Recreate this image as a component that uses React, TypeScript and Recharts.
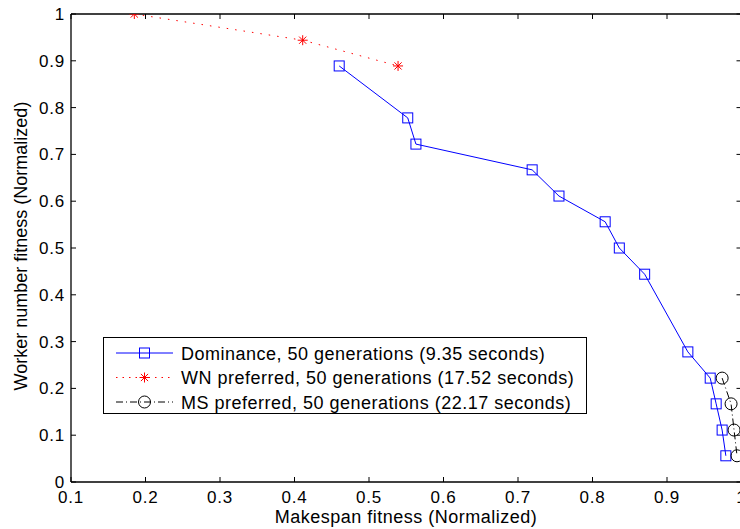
import React from 'react';
import { LineChart, Line, XAxis, YAxis } from 'recharts';

// axis ticks
const xTicks = [0.1, 0.2, 0.3, 0.4, 0.5, 0.6, 0.7, 0.8, 0.9, 1];
const xTickLabels = ['0.1', '0.2', '0.3', '0.4', '0.5', '0.6', '0.7', '0.8', '0.9', '1'];
const yTicks = [0, 0.1, 0.2, 0.3, 0.4, 0.5, 0.6, 0.7, 0.8, 0.9, 1];
const yTickLabels = ['0', '0.1', '0.2', '0.3', '0.4', '0.5', '0.6', '0.7', '0.8', '0.9', '1'];

// Dominance, 50 generations
const domX = [0.46, 0.552, 0.563, 0.719, 0.755, 0.817, 0.836, 0.87, 0.928, 0.958, 0.966, 0.974, 0.979];
const domY = [0.889, 0.778, 0.722, 0.667, 0.611, 0.556, 0.5, 0.444, 0.278, 0.222, 0.167, 0.111, 0.056];

// WN preferred
const wnX = [0.185, 0.411, 0.539];
const wnY = [1, 0.944, 0.889];

// MS preferred
const msX = [0.974, 0.986, 0.99, 0.994];
const msY = [0.222, 0.167, 0.111, 0.056];

const seriesNames = [
  'Dominance, 50 generations (9.35 seconds)',
  'WN preferred, 50 generations (17.52 seconds)',
  'MS preferred, 50 generations (22.17 seconds)',
];

const toRows = (xs: number[], ys: number[]) => xs.map((x, i) => ({ x, y: ys[i] }));
const domData = toRows(domX, domY);
const wnData = toRows(wnX, wnY);
const msData = toRows(msX, msY);

const FONT = '"Liberation Sans", Arial, Helvetica, sans-serif';
const AXIS = { stroke: '#000', strokeWidth: 1.3 };
const TICK_LEN = 5;

const BLUE = '#0000ff';
const RED = '#ff0000';

const BottomTick = (props: any) => {
  const { x, y, index } = props;
  return (
    <g>
      <line x1={x} y1={y} x2={x} y2={y - TICK_LEN} stroke="#000" strokeWidth={1} />
      <text x={x} y={y + 21} textAnchor="middle" fontSize={17} letterSpacing={0.8} fontFamily={FONT} fill="#000">
        {xTickLabels[index]}
      </text>
    </g>
  );
};

const TopTick = (props: any) => {
  const { x, y } = props;
  return <line x1={x} y1={y} x2={x} y2={y + TICK_LEN} stroke="#000" strokeWidth={1} />;
};

const LeftTick = (props: any) => {
  const { x, y, index } = props;
  return (
    <g>
      <line x1={x} y1={y} x2={x + TICK_LEN} y2={y} stroke="#000" strokeWidth={1} />
      <text x={x - 6} y={y + 6} textAnchor="end" fontSize={17} letterSpacing={0.8} fontFamily={FONT} fill="#000">
        {yTickLabels[index]}
      </text>
    </g>
  );
};

const RightTick = (props: any) => {
  const { x, y } = props;
  return <line x1={x} y1={y} x2={x - TICK_LEN} y2={y} stroke="#000" strokeWidth={1} />;
};

const Square = ({ cx, cy, color }: { cx: number; cy: number; color: string }) => (
  <rect x={cx - 5} y={cy - 5} width={10} height={10} fill="none" stroke={color} strokeWidth={1} />
);

const Star = ({ cx, cy, color }: { cx: number; cy: number; color: string }) => (
  <g stroke={color} strokeWidth={1}>
    <line x1={cx - 5} y1={cy} x2={cx + 5} y2={cy} />
    <line x1={cx} y1={cy - 5} x2={cx} y2={cy + 5} />
    <line x1={cx - 3.6} y1={cy - 3.6} x2={cx + 3.6} y2={cy + 3.6} />
    <line x1={cx - 3.6} y1={cy + 3.6} x2={cx + 3.6} y2={cy - 3.6} />
  </g>
);

const Ring = ({ cx, cy, color }: { cx: number; cy: number; color: string }) => (
  <circle cx={cx} cy={cy} r={6} fill="none" stroke={color} strokeWidth={1} />
);

const squareDot = (p: any) => <Square key={p.index} cx={p.cx} cy={p.cy} color={BLUE} />;
const starDot = (p: any) => <Star key={p.index} cx={p.cx} cy={p.cy} color={RED} />;
const ringDot = (p: any) => <Ring key={p.index} cx={p.cx} cy={p.cy} color="#000" />;

const legendRows = [
  { name: seriesNames[0], color: BLUE, dash: undefined, Marker: Square },
  { name: seriesNames[1], color: RED, dash: '1.5 5', Marker: Star },
  { name: seriesNames[2], color: '#000', dash: '7 3 1 3', Marker: Ring },
];

const LegendBox = () => (
  <div
    style={{
      position: 'absolute',
      left: 103,
      top: 337,
      width: 482,
      height: 75,
      border: '1px solid #000',
      background: '#fff',
      fontFamily: FONT,
    }}
  >
    <svg width={482} height={75} style={{ position: 'absolute', left: 0, top: 0 }}>
      {legendRows.map((r, i) => {
        const cy = 15 + i * 24.5;
        return (
          <g key={r.name}>
            <line x1={12} y1={cy} x2={69} y2={cy} stroke={r.color} strokeWidth={1} strokeDasharray={r.dash} />
            <r.Marker cx={40.5} cy={cy} color={r.color} />
            <text x={77} y={cy + 6.5} fontSize={18} letterSpacing={0.5} fontFamily={FONT} fill="#000">
              {r.name}
            </text>
          </g>
        );
      })}
    </svg>
  </div>
);

export default function App() {
  return (
    <div
      style={{
        position: 'absolute',
        left: 0,
        top: 0,
        width: 740,
        height: 529,
        overflow: 'hidden',
        background: '#fff',
      }}
    >
      <LineChart width={760} height={529} margin={{ top: 13, right: 17.5, left: 70, bottom: 46 }}>
        <XAxis
          xAxisId="bottom"
          type="number"
          dataKey="x"
          domain={[0.1, 1]}
          ticks={xTicks}
          interval={0}
          height={1}
          tickSize={0}
          tickMargin={0}
          axisLine={AXIS}
          tickLine={false}
          tick={BottomTick}
          allowDataOverflow
        />
        <XAxis
          xAxisId="top"
          orientation="top"
          type="number"
          dataKey="x"
          domain={[0.1, 1]}
          ticks={xTicks}
          interval={0}
          height={1}
          tickSize={0}
          tickMargin={0}
          axisLine={AXIS}
          tickLine={false}
          tick={TopTick}
          allowDataOverflow
        />
        <YAxis
          yAxisId="left"
          type="number"
          dataKey="y"
          domain={[0, 1]}
          ticks={yTicks}
          interval={0}
          width={1}
          tickSize={0}
          tickMargin={0}
          axisLine={AXIS}
          tickLine={false}
          tick={LeftTick}
          allowDataOverflow
        />
        <YAxis
          yAxisId="right"
          orientation="right"
          type="number"
          dataKey="y"
          domain={[0, 1]}
          ticks={yTicks}
          interval={0}
          width={1}
          tickSize={0}
          tickMargin={0}
          axisLine={AXIS}
          tickLine={false}
          tick={RightTick}
          allowDataOverflow
        />
        <Line
          xAxisId="bottom"
          yAxisId="left"
          data={domData}
          dataKey="y"
          type="linear"
          stroke={BLUE}
          strokeWidth={1}
          dot={squareDot}
          activeDot={false}
          isAnimationActive={false}
        />
        <Line
          xAxisId="bottom"
          yAxisId="left"
          data={wnData}
          dataKey="y"
          type="linear"
          stroke={RED}
          strokeWidth={1}
          strokeDasharray="1.5 7"
          dot={starDot}
          activeDot={false}
          isAnimationActive={false}
        />
        <Line
          xAxisId="bottom"
          yAxisId="left"
          data={msData}
          dataKey="y"
          type="linear"
          stroke="#000"
          strokeWidth={1}
          strokeDasharray="7 3 1 3"
          dot={ringDot}
          activeDot={false}
          isAnimationActive={false}
        />
      </LineChart>
      <svg width={740} height={529} style={{ position: 'absolute', left: 0, top: 0, pointerEvents: 'none' }}>
        <text x={406} y={523} textAnchor="middle" fontSize={18} letterSpacing={0.5} fontFamily={FONT} fill="#000">
          Makespan fitness (Normalized)
        </text>
        <text
          x={0}
          y={0}
          transform="translate(27, 246) rotate(-90)"
          textAnchor="middle"
          fontSize={18}
          fontFamily={FONT}
          fill="#000"
        >
          Worker number fitness (Normalized)
        </text>
      </svg>
      <LegendBox />
    </div>
  );
}
